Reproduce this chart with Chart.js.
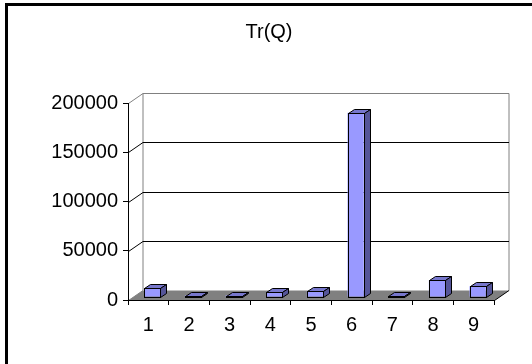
<!DOCTYPE html>
<html>
<head>
<meta charset="utf-8">
<script src="https://cdn.jsdelivr.net/npm/chart.js@4/dist/chart.umd.min.js"></script>
<style>
  html, body { margin: 0; padding: 0; background: #fff; }
  #wrap { width: 532px; height: 364px; }
</style>
</head>
<body>
<div id="wrap"><canvas id="c" width="532" height="364"></canvas></div>
<script>
// Data
const categories = ['1', '2', '3', '4', '5', '6', '7', '8', '9'];
const trQ = [9000, 1500, 1500, 5000, 6000, 187000, 1000, 17000, 11000];
const yTicks = [0, 50000, 100000, 150000, 200000];
const titleText = 'Tr(Q)';

// 3D look: depth of the floor/walls and of each box
const DEPTH_X = 14.5, DEPTH_Y = -10;
const BOX_DX = 6, BOX_DY = -4;
const SHIFT_X = 4, SHIFT_Y = -3;

const FRONT = '#9999FF', TOP = '#7777CC', SIDE = '#555599';
const FONT = { family: '"Liberation Sans", Arial, sans-serif', size: 20 };

const snap = v => Math.round(v) + 0.5;

const box3d = {
  id: 'box3d',
  beforeDraw(chart) {
    const { ctx, chartArea: a, scales: { y } } = chart;
    const L = snap(a.left), R = snap(a.right), B = snap(a.bottom);
    const T = snap(y.getPixelForValue(yTicks[yTicks.length - 1]));
    const dx = DEPTH_X, dy = DEPTH_Y;
    ctx.save();

    // outer frame
    ctx.strokeStyle = '#000';
    ctx.lineWidth = 3;
    ctx.strokeRect(6.5, 4.5, 600, 420);

    // floor
    ctx.fillStyle = '#808080';
    ctx.beginPath();
    ctx.moveTo(L, B); ctx.lineTo(L + dx, B + dy); ctx.lineTo(R + dx, B + dy); ctx.lineTo(R, B);
    ctx.closePath();
    ctx.fill();

    // walls outline
    ctx.lineWidth = 1;
    ctx.strokeStyle = '#808080';
    ctx.beginPath();
    ctx.moveTo(L, T); ctx.lineTo(L + dx, T + dy); ctx.lineTo(R + dx, T + dy); ctx.lineTo(R + dx, B + dy);
    ctx.moveTo(L + dx, T + dy); ctx.lineTo(L + dx, B + dy);
    ctx.moveTo(L, B); ctx.lineTo(L + dx, B + dy);
    ctx.stroke();

    // value gridlines across side and back wall
    ctx.strokeStyle = '#000';
    ctx.beginPath();
    yTicks.slice(1, -1).forEach(v => {
      const py = snap(y.getPixelForValue(v));
      ctx.moveTo(L, py); ctx.lineTo(L + dx, py + dy); ctx.lineTo(R + dx, py + dy);
    });
    ctx.moveTo(R, B); ctx.lineTo(R + dx, B + dy);
    ctx.stroke();
    ctx.restore();
  },
  beforeDatasetsDraw(chart) {
    chart.ctx.save();
    chart.ctx.translate(SHIFT_X, SHIFT_Y);
  },
  afterDatasetsDraw(chart) {
    const ctx = chart.ctx;
    const meta = chart.getDatasetMeta(0);
    ctx.lineWidth = 1;
    ctx.strokeStyle = '#000';
    meta.data.forEach(bar => {
      const { x, y, base, width } = bar.getProps(['x', 'y', 'base', 'width'], true);
      const l = Math.round(x - width / 2) + 0.5, r = Math.round(x + width / 2) + 0.5;
      const t = Math.round(y) + 0.5, b = Math.round(base) + 0.5;
      // top face
      ctx.fillStyle = TOP;
      ctx.beginPath();
      ctx.moveTo(l, t); ctx.lineTo(l + BOX_DX, t + BOX_DY); ctx.lineTo(r + BOX_DX, t + BOX_DY); ctx.lineTo(r, t);
      ctx.closePath(); ctx.fill(); ctx.stroke();
      // side face
      ctx.fillStyle = SIDE;
      ctx.beginPath();
      ctx.moveTo(r, t); ctx.lineTo(r + BOX_DX, t + BOX_DY); ctx.lineTo(r + BOX_DX, b + BOX_DY); ctx.lineTo(r, b);
      ctx.closePath(); ctx.fill(); ctx.stroke();
      // front outline
      ctx.strokeRect(l, t, r - l, b - t);
    });
    ctx.restore();
  }
};

new Chart(document.getElementById('c'), {
  type: 'bar',
  data: {
    labels: categories,
    datasets: [{
      data: trQ,
      backgroundColor: FRONT,
      borderWidth: 0,
      categoryPercentage: 1,
      barPercentage: 0.4,
      clip: false
    }]
  },
  options: {
    responsive: false,
    animation: false,
    devicePixelRatio: 1,
    layout: { padding: { left: 44, right: 38, top: 0, bottom: 0 } },
    plugins: {
      legend: { display: false },
      tooltip: { enabled: false },
      title: {
        display: true,
        text: titleText,
        color: '#000',
        font: { ...FONT, weight: 'normal' },
        padding: { top: 20, bottom: 59 }
      }
    },
    scales: {
      x: {
        afterFit(s) { s.height = 64; },
        grid: { offset: true, drawOnChartArea: false, drawTicks: true, tickLength: 5, color: '#000' },
        border: { display: true, color: '#000', width: 1 },
        ticks: { color: '#000', font: FONT, padding: 8, maxRotation: 0 }
      },
      y: {
        min: 0,
        max: 200000,
        afterFit(s) { s.width = 84; },
        afterBuildTicks(s) { s.ticks = yTicks.map(v => ({ value: v })); },
        grid: { drawOnChartArea: false, drawTicks: true, tickLength: 5, color: '#000' },
        border: { display: true, color: '#000', width: 1 },
        ticks: { color: '#000', font: FONT, padding: 5, callback: v => String(v) }
      }
    }
  },
  plugins: [box3d]
});
</script>
</body>
</html>
